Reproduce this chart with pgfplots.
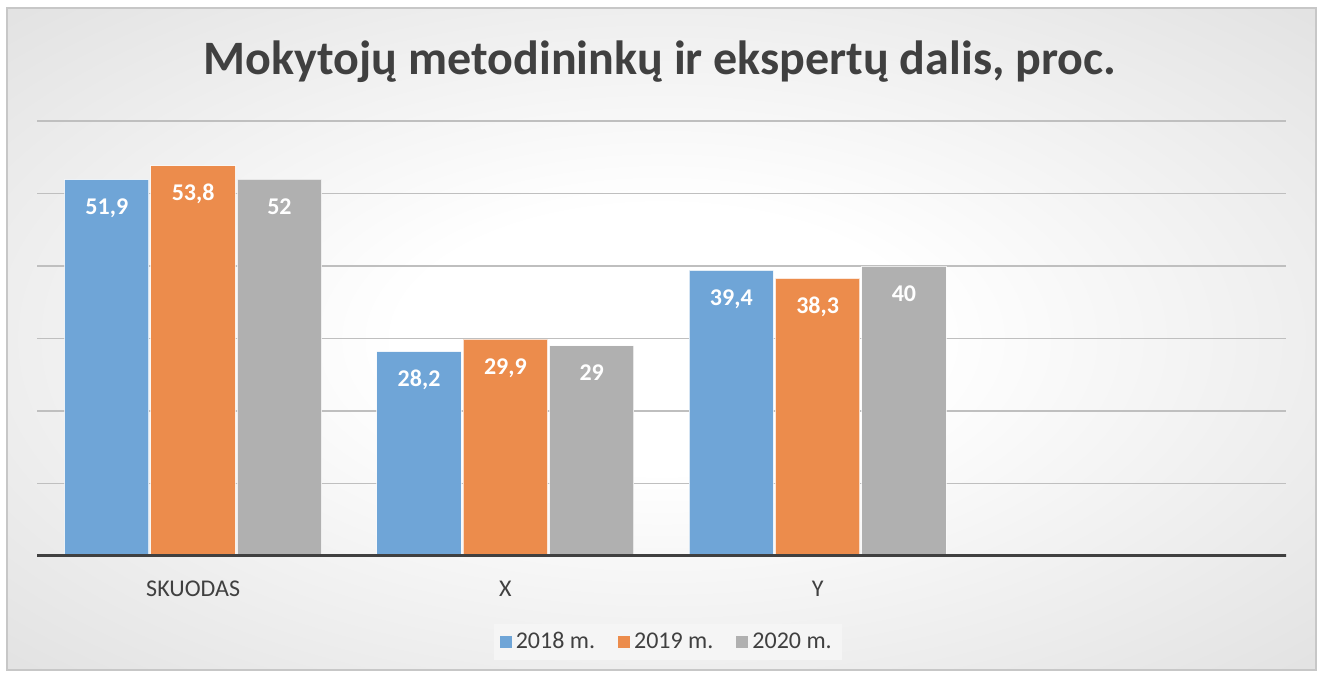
\documentclass[border=0pt]{standalone}
\usepackage{pgfplots}
\pgfplotsset{compat=1.18}
\usepackage{fontspec}
\setmainfont{Carlito}
\definecolor{cblue}{RGB}{111,165,215}
\definecolor{corange}{RGB}{236,140,76}
\definecolor{cgray}{RGB}{176,176,176}
\definecolor{txt}{RGB}{64,64,64}
\definecolor{bgout}{RGB}{186,186,186}
\definecolor{legbg}{RGB}{245,245,245}
\pgfdeclareradialshading{bgshade}{\pgfpoint{0bp}{0bp}}{color(0bp)=(white); color(10bp)=(white); color(71bp)=(bgout)}
\begin{document}
\begin{tikzpicture}[x=0.5pt,y=0.5pt]
\fill[white] (0,0) rectangle (1321,675);
\shade[shading=bgshade] (7,5) rectangle (1316,667);
\draw[black!22, line width=0.75pt] (7,5) rectangle (1316,667);
\node[anchor=base, font=\fontsize{24}{28}\bfseries, text=txt, inner sep=0pt] at (660,600) {Mokytojų metodininkų ir ekspertų dalis, proc.};
\begin{axis}[
  at={(18.5pt,59.5pt)}, anchor=south west,
  scale only axis, width=624.5pt, height=217.5pt,
  xmin=-0.5, xmax=3.5, ymin=0, ymax=60,
  ybar=1pt, bar width=0.27,
  xtick={0,1,2,3}, xticklabels={SKUODAS,X,Y,{}},
  ytick={10,20,...,60}, yticklabels={},
  ymajorgrids, grid style={black!25, line width=0.75pt},
  major tick length=0pt,
  axis line style={draw=none},
  xticklabel style={anchor=base, yshift=-20pt, font=\fontsize{12}{14}\selectfont, text=txt},
  /pgf/number format/assume math mode=true,
  /pgf/number format/use comma,
  nodes near coords,
  every node near coord/.append style={anchor=base, yshift=-17.5pt, font=\fontsize{12}{14}\bfseries, text=white},
  legend columns=3,
  legend style={at={(0.505,-0.198)}, anchor=center, draw=none, fill=legbg, font=\fontsize{12}{14}\selectfont, text=txt, /tikz/every even column/.append style={column sep=9.5pt}},
  legend image code/.code={\fill[#1,draw=none] (-1.5pt,-3pt) rectangle (4.5pt,3pt);},
]
\addplot[fill=cblue, draw=white, draw opacity=0.7, line width=0.5pt] coordinates {(0,51.9) (1,28.2) (2,39.4)};
\addplot[fill=corange, draw=white, draw opacity=0.7, line width=0.5pt] coordinates {(0,53.8) (1,29.9) (2,38.3)};
\addplot[fill=cgray, draw=white, draw opacity=0.7, line width=0.5pt] coordinates {(0,52) (1,29) (2,40)};
\legend{2018 m.,2019 m.,2020 m.}
\draw[txt, line width=1.6pt] (rel axis cs:-0.002,0) -- (rel axis cs:1.001,0);
\end{axis}
\end{tikzpicture}
\end{document}
